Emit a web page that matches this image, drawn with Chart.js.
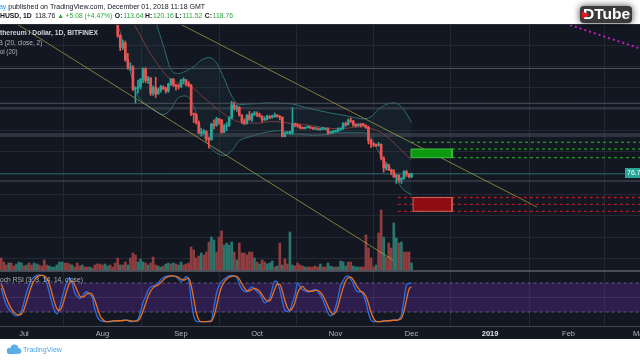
<!DOCTYPE html>
<html><head><meta charset="utf-8">
<script src="https://cdn.jsdelivr.net/npm/chart.js@4.4.1/dist/chart.umd.min.js"></script>
<style>html,body{margin:0;padding:0;background:#fff;overflow:hidden}canvas{display:block}</style>
</head><body>
<canvas id="c" width="640" height="360"></canvas>
<script>
// ---------------- data (x = days since 2018-07-01) ----------------
const monthTicks = [0, 31, 62, 92, 123, 153, 184, 215, 243];
const monthLabels = ['Jul', 'Aug', 'Sep', 'Oct', 'Nov', 'Dec', '2019', 'Feb', 'Mar'];

const candleStart = 34; // Aug 4
const opens = [417,408,407,406,378,356,364,333,319,319,
  278,280,282,296,316,294,298,270,281,269,
  276,282,279,274,287,296,285,283,282,294,
  295,289,285,232,230,215,196,197,198,185,
  183,212,210,222,220,197,208,210,224,248,
  241,244,229,218,214,229,221,231,232,230,
  227,220,222,227,225,226,229,227,225,189,
  195,196,197,212,211,209,205,204,206,207,
  205,204,204,203,203,204,204,197,197,198,
  199,203,204,213,211,219,218,211,209,212,
  211,210,206,181,175,173,172,174,149,130,
  136,126,123,113,116,108,110,123,118,113.64];
const highs = [418,412,414,410,380,370,368,345,327,322,
  282,295,298,318,318,302,300,284,300,280,
  285,284,281,289,298,298,287,287,296,299,
  296,292,287,233,232,218,204,202,200,188,
  214,220,225,223,221,212,215,226,255,253,
  248,245,230,222,230,236,233,236,235,233,
  228,226,229,228,229,233,230,228,226,197,
  198,199,243,214,213,211,207,207,209,208,
  206,207,205,205,206,205,205,199,200,201,
  205,205,215,216,222,224,219,213,213,213,
  214,211,208,184,177,175,178,175,151,140,
  137,127,127,118,117,112,125,125,120,120.16];
const lows = [400,401,400,375,350,352,330,315,313,275,
  252,270,278,290,290,288,266,266,262,268,
  272,277,270,272,285,283,276,278,281,288,
  284,282,228,215,212,194,190,193,180,167,
  182,203,208,212,195,196,200,208,222,238,
  236,227,213,211,212,219,217,228,226,225,
  216,219,220,222,223,225,225,220,188,188,
  194,193,193,207,206,203,203,203,205,204,
  202,203,201,201,202,202,193,195,195,197,
  198,200,202,208,210,215,208,207,208,207,
  208,204,175,168,170,170,171,145,122,126,
  125,117,112,101,103,101,109,114,111,111.52];
const closes = [408,407,406,378,356,364,333,319,319,278,
  280,282,296,316,294,298,270,281,269,276,
  282,279,274,287,296,285,283,282,294,295,
  289,285,232,230,215,196,197,198,185,183,
  212,210,222,220,197,208,210,224,248,241,
  244,229,218,214,229,221,231,232,230,227,
  220,222,227,225,226,229,227,225,189,195,
  196,197,212,211,209,205,204,206,207,205,
  204,204,203,203,204,204,197,197,198,199,
  203,204,213,211,219,218,211,209,212,211,
  210,206,181,175,173,172,174,149,130,136,
  126,123,113,116,108,110,123,118,113.64,118.76];

const volStart = -9;
const volume = [60,40,25,35,35,20,30,40,35,20,
  25,35,25,35,30,25,20,50,25,20,
  15,15,25,40,40,35,35,30,25,15,
  35,20,25,15,15,15,10,25,30,30,
  25,30,20,25,15,35,60,25,25,40,
  25,60,85,75,40,55,40,35,25,35,
  65,25,20,15,20,30,35,30,35,30,
  25,40,25,30,35,115,100,60,70,85,
  75,90,140,165,150,90,165,195,125,135,
  125,140,90,50,135,85,85,75,90,90,
  60,40,30,50,40,30,35,45,15,20,
  135,25,55,30,190,25,20,35,25,20,
  15,15,15,15,20,15,30,15,15,35,
  20,15,15,15,45,40,20,40,40,20,
  15,15,15,15,175,110,60,15,25,185,
  300,165,65,135,110,235,160,135,140,90,
  90,90,35];
const volUp = [0,0,0,1,0,0,1,1,1,0,
  1,0,0,1,1,0,0,0,0,1,
  1,1,1,1,1,0,0,0,1,0,
  0,0,1,0,0,1,0,0,0,0,
  0,1,1,0,0,0,0,1,0,0,
  1,0,0,0,1,1,1,0,1,0,
  0,0,1,1,0,1,1,0,1,0,
  1,1,0,0,0,0,0,0,0,1,
  0,0,0,1,1,0,0,0,1,1,
  1,1,0,1,0,0,0,0,0,0,
  1,0,1,0,0,1,1,1,0,1,
  0,1,0,0,1,1,0,0,0,0,
  1,0,0,0,0,0,1,0,0,1,
  1,1,0,1,1,1,1,0,0,1,
  1,1,0,0,0,0,0,0,1,0,
  0,1,0,0,0,1,1,0,1,0,
  0,0,1];

const stochStart = -9;
const stochK = [70,50,35,26,20,15,12,14,22,40,
  60,75,87,92,96,97,96,93,80,60,
  40,24,16,28,48,68,83,90,80,60,
  52,48,52,60,62,56,50,25,10,3,
  1,0,0,1,2,2,1,2,3,3,
  2,0,0,2,5,20,40,52,65,72,
  74,75,80,87,91,94,95,95,94,93,
  88,83,88,93,88,45,12,1,0,0,
  0,0,1,3,30,59,75,83,88,92,
  95,96,94,92,78,68,63,62,68,72,
  68,62,58,48,39,42,48,68,84,82,
  66,42,24,21,24,40,55,81,72,66,
  64,62,63,65,67,62,55,45,32,18,
  12,15,30,50,75,85,93,95,88,78,
  66,62,62,55,40,18,3,0,0,0,
  1,2,2,2,3,3,3,5,14,45,
  76,79,80];
const stochD = [78,65,50,37,27,20,16,14,16,25,
  41,58,74,85,92,95,96,95,90,78,
  60,41,27,23,31,48,66,80,84,77,
  64,53,51,53,58,59,56,44,28,13,
  5,1,0,0,1,2,2,2,2,3,
  3,2,1,1,2,9,22,37,52,63,
  70,74,76,81,86,91,93,95,95,94,
  92,88,86,88,90,75,48,19,4,0,
  0,0,0,1,11,31,55,72,82,88,
  92,94,95,94,88,79,70,64,64,67,
  69,67,63,56,48,43,43,53,67,78,
  77,63,44,29,23,28,40,59,69,73,
  67,64,63,63,65,65,61,54,44,32,
  21,15,19,32,52,70,84,91,92,87,
  77,69,63,60,52,38,20,7,1,0,
  0,1,2,2,2,3,3,4,7,21,
  45,67,72];

const bbDays  = [34,36,38,40,42,44,46,48,50,52,55,58,61,64,67,70,73,76,79,82,85,89,93,97,102,106,110,114,118,122,126,130,134,137,140,143,146,149,151,153];
const bbUpper = [500,505,510,510,510,510,500,470,440,405,360,315,307,312,320,332,337,327,298,265,249,250,251,252,251,250,245,240,236,232,229,225,222,226,240,249,252,245,232,215];
const bbBasis = [465,458,448,432,412,395,378,360,344,330,310,296,289,286,279,266,254,242,231,222,216,214,214,217,216,213,212,209,206,204,204,206,207,204,199,190,177,163,154,145];
const bbLower = [430,405,385,348,310,275,258,250,243,236,230,240,262,265,245,200,172,158,153,162,181,188,194,198,200,194,193,191,192,195,196,196,196,187,160,140,122,93,85,80];

const priceLevels = [316.5, 251.2, 242.4, 193.6, 189.9, 105.5];
const lastPrice = 118.76;
const upperTrend = [[58, 408.8], [202.5, 56.7]];
const lowerTrend = [[-10, 421.6], [145.7, -42.8]];
const magentaTrend = [[210, 407], [245, 351.1]];
const greenZone = {from: 152.8, to: 169, top: 165.5, bottom: 149.2, level: 178.1};
const redZone = {from: 153.6, to: 169, top: 74.5, mid: 61.7, bottom: 48.6, lineFrom: 147.6};
const stochBands = [80, 50, 20];

// ---------------- chart ----------------
const FONT = '"Liberation Sans", Arial, Helvetica, sans-serif';
const X_MIN = -9.47, X_MAX = 243.2, X_END = 246;
const up = '#26a69a', dn = '#ef5350';
const cCol = opens.map((o, i) => closes[i] >= o ? up : dn);
const pts = (start, arr) => arr.map((v, i) => ({x: start + i, y: v}));
const seg = (p) => p.map(q => ({x: q[0], y: q[1]}));
const hline = (y, from) => [{x: from, y}, {x: X_END, y}];
const box = (z) => [{x: z.from, y: z.top}, {x: z.to, y: z.top}, {x: z.to, y: z.bottom}, {x: z.from, y: z.bottom}, {x: z.from, y: z.top}];

const datasets = [
  {type: 'line', data: hline(stochBands[0], -12), yAxisID: 'yS', borderColor: 'rgba(150,140,185,0.55)', borderDash: [3, 3], fill: '+1', backgroundColor: 'rgba(120,50,200,0.26)', order: 100},
  {type: 'line', data: hline(stochBands[2], -12), yAxisID: 'yS', borderColor: 'rgba(150,140,185,0.55)', borderDash: [3, 3], order: 99},
  {type: 'line', data: hline(stochBands[1], -12), yAxisID: 'yS', borderColor: 'rgba(150,140,185,0.18)', order: 98},
  {type: 'line', data: bbDays.map((d, i) => ({x: d, y: bbUpper[i]})), yAxisID: 'yP', borderColor: '#2b6f70', fill: '+1', backgroundColor: 'rgba(40,120,120,0.10)', cubicInterpolationMode: 'monotone', order: 90},
  {type: 'line', data: bbDays.map((d, i) => ({x: d, y: bbLower[i]})), yAxisID: 'yP', borderColor: '#2b6f70', cubicInterpolationMode: 'monotone', order: 89},
  {type: 'line', data: bbDays.map((d, i) => ({x: d, y: bbBasis[i]})), yAxisID: 'yP', borderColor: '#7b3a3f', cubicInterpolationMode: 'monotone', order: 88},
  ...priceLevels.map(p => ({type: 'line', data: hline(p, -12), yAxisID: 'yP', borderColor: '#4d515c', order: 80})),
  {type: 'line', data: hline(lastPrice, -12), yAxisID: 'yP', borderColor: 'rgba(38,166,154,0.55)', order: 79},
  {type: 'bar', data: pts(volStart, volume), yAxisID: 'yV', backgroundColor: volUp.map(u => u ? '#2a766d' : '#8f3d3e'), barThickness: 2, grouped: false, order: 70},
  {type: 'line', data: seg(upperTrend), yAxisID: 'yP', borderColor: 'rgba(190,180,70,0.65)', order: 60},
  {type: 'line', data: seg(lowerTrend), yAxisID: 'yP', borderColor: 'rgba(190,180,70,0.65)', order: 60},
  {type: 'line', data: seg(magentaTrend), yAxisID: 'yP', borderColor: '#c21bc2', borderWidth: 2, borderDash: [2, 3], order: 59},
  {type: 'bar', data: opens.map((o, i) => ({x: candleStart + i, y: [lows[i], highs[i]]})), yAxisID: 'yP', backgroundColor: cCol, barThickness: 1, grouped: false, order: 50},
  {type: 'bar', data: opens.map((o, i) => ({x: candleStart + i, y: [Math.min(o, closes[i]), Math.max(o, closes[i])]})), yAxisID: 'yP', backgroundColor: cCol, barThickness: 2, minBarLength: 1, grouped: false, order: 49},
  {type: 'line', data: hline(greenZone.level, greenZone.from), yAxisID: 'yP', borderColor: '#1f9e22', borderWidth: 1.3, borderDash: [3, 3], order: 41},
  {type: 'line', data: hline(greenZone.top, greenZone.to), yAxisID: 'yP', borderColor: '#1f9e22', borderWidth: 1.3, borderDash: [3, 3], order: 41},
  {type: 'line', data: hline(greenZone.bottom, greenZone.to), yAxisID: 'yP', borderColor: '#1f9e22', borderWidth: 1.3, borderDash: [3, 3], order: 41},
  {type: 'line', data: hline(redZone.top, redZone.lineFrom), yAxisID: 'yP', borderColor: '#a91d24', borderWidth: 1.3, borderDash: [3, 3], order: 41},
  {type: 'line', data: hline(redZone.mid, redZone.lineFrom), yAxisID: 'yP', borderColor: '#a91d24', borderWidth: 1.3, borderDash: [3, 3], order: 41},
  {type: 'line', data: hline(redZone.bottom, redZone.lineFrom), yAxisID: 'yP', borderColor: '#a91d24', borderWidth: 1.3, borderDash: [3, 3], order: 41},
  {type: 'line', data: box(greenZone), yAxisID: 'yP', borderColor: '#3cc23f', backgroundColor: '#0e9a10', fill: 'shape', order: 40},
  {type: 'line', data: box(redZone), yAxisID: 'yP', borderColor: '#c8665c', backgroundColor: '#8f0c12', fill: 'shape', order: 40},
  {type: 'line', data: pts(stochStart, stochK), yAxisID: 'yS', borderColor: '#2f6fe0', borderWidth: 1.3, cubicInterpolationMode: 'monotone', order: 20},
  {type: 'line', data: pts(stochStart, stochD), yAxisID: 'yS', borderColor: '#e8711f', borderWidth: 1.3, cubicInterpolationMode: 'monotone', order: 19},
];

function fitSize(ctx, text, w, weight) { ctx.font = weight + ' 20px ' + FONT; return 20 * w / ctx.measureText(text).width; }
function setFont(ctx, s, weight) { ctx.font = weight + ' ' + s.toFixed(2) + 'px ' + FONT; }
function hl(ctx, y, color, w) { ctx.strokeStyle = color; ctx.lineWidth = w; ctx.beginPath(); ctx.moveTo(0, y); ctx.lineTo(640, y); ctx.stroke(); }

const decor = {
  id: 'decor',
  beforeDraw(chart) {
    const c = chart.ctx; c.save();
    c.fillStyle = '#ffffff'; c.fillRect(0, 0, 640, 360);
    c.fillStyle = '#131722'; c.fillRect(0, 24, 640, 315);
    c.restore();
  },
  afterDraw(chart) {
    const c = chart.ctx, a = chart.chartArea, yV = chart.scales.yV;
    c.save();
    hl(c, 24.5, '#2a2e39', 1);
    hl(c, Math.round(yV.getPixelForValue(0)) + 1, '#5d606b', 1.5);
    hl(c, a.bottom + 0.5, '#434651', 1);
    c.textBaseline = 'middle'; c.textAlign = 'left';
    // header line 1
    const pub = 'published on TradingView.com, December 01, 2018 11:18 GMT';
    const hs = fitSize(c, pub, 197, 'normal');
    setFont(c, hs, 'normal');
    c.fillStyle = '#2196f3'; c.fillText('ay', 8.3 - c.measureText('ay ').width, 6.7);
    c.fillStyle = '#131722'; c.fillText(pub, 8.3, 6.7);
    // header line 2
    const ls = hs * 0.97;
    setFont(c, ls, 'bold');
    c.fillText('ETHUSD, 1D', -c.measureText('ET').width, 16);
    const g = '#2fa53a', k = '#131722';
    const toks = [['118.76', 'normal', k, 2], ['\u25B2', 'normal', g, 1.5], ['+5.08 (+4.47%)', 'normal', g, 2.5],
      ['O:', 'bold', k, 0.8], ['113.64', 'normal', g, 1.5], ['H:', 'bold', k, 0.8], ['120.16', 'normal', g, 1.5],
      ['L:', 'bold', k, 0.8], ['111.52', 'normal', g, 2.5], ['C:', 'bold', k, 0.8], ['118.76', 'normal', g, 0]];
    let tx = 35;
    toks.forEach(t => { setFont(c, ls, t[1]); c.fillStyle = t[2]; c.fillText(t[0], tx, 16); tx += c.measureText(t[0]).width + t[3]; });
    // legends
    let s = fitSize(c, 'thereum / Dollar, 1D, BITFINEX', 98, 'bold'); setFont(c, s, 'bold');
    c.fillStyle = '#d1d4dc'; c.fillText('Ethereum / Dollar, 1D, BITFINEX', -c.measureText('E').width, 33.5);
    s = fitSize(c, 'B (20, close, 2)', 44, 'normal'); setFont(c, s, 'normal');
    c.fillStyle = '#b2b5be'; c.fillText('BB (20, close, 2)', -c.measureText('B').width - 1.5, 43.5);
    s = fitSize(c, 'ol (20)', 18, 'normal'); setFont(c, s, 'normal');
    c.fillText('Vol (20)', -c.measureText('V').width, 52.5);
    s = fitSize(c, 'och RSI (3, 3, 14, 14, close)', 83, 'normal'); setFont(c, s, 'normal');
    c.fillText('Stoch RSI (3, 3, 14, 14, close)', -c.measureText('St').width, 280);
    // right price tag
    c.fillStyle = '#26a69a'; c.fillRect(625, 168, 16, 10);
    setFont(c, hs, 'normal'); c.fillStyle = '#ffffff'; c.fillText('76.7', 627, 173.2);
    // footer
    c.fillStyle = '#5aaee8';
    c.beginPath(); c.arc(10, 351, 3.2, Math.PI * 0.5, Math.PI * 1.5); c.arc(14.5, 348.5, 4, Math.PI, Math.PI * 1.9);
    c.arc(18.5, 351, 2.8, Math.PI * 1.4, Math.PI * 0.5); c.closePath(); c.fill();
    s = fitSize(c, 'TradingView', 39, 'normal'); setFont(c, s, 'normal');
    c.fillStyle = '#4ba5e3'; c.fillText('TradingView', 23, 350.5);
    // DTube badge
    c.save(); c.shadowColor = 'rgba(0,0,0,0.75)'; c.shadowBlur = 7;
    c.fillStyle = '#3a3a3a'; c.beginPath(); c.roundRect(580, 6, 52, 17, 4); c.fill(); c.restore();
    s = fitSize(c, 'Tube', 36, 'bold'); setFont(c, s, 'bold');
    c.fillStyle = '#ffffff'; c.fillText('DTube', 583, 15);
    c.fillStyle = '#e3161c'; c.beginPath(); c.moveTo(582, 11.3); c.lineTo(589.5, 15); c.lineTo(582, 18.7); c.closePath(); c.fill();
    c.restore();
  }
};

Chart.defaults.elements.point.radius = 0;
Chart.defaults.elements.line.borderWidth = 1;

new Chart(document.getElementById('c'), {
  type: 'line',
  data: {datasets},
  plugins: [decor],
  options: {
    responsive: false, animation: false, devicePixelRatio: 1, events: [],
    layout: {padding: {top: 24, bottom: 21, left: 0, right: 0}},
    plugins: {legend: {display: false}, tooltip: {enabled: false}},
    scales: {
      x: {
        type: 'linear', min: X_MIN, max: X_MAX, offset: false, position: 'bottom',
        grid: {color: '#242833', drawTicks: false},
        border: {display: false},
        afterBuildTicks: (sc) => { sc.ticks = monthTicks.map(v => ({value: v})); },
        afterFit: (sc) => { sc.height = 13; sc.paddingLeft = 0; sc.paddingRight = 0; },
        ticks: {
          autoSkip: false, maxRotation: 0, padding: 3,
          callback: (v, i) => monthLabels[i],
          font: (ctx) => ({size: 7.5, family: FONT, weight: (ctx.tick && ctx.tick.value === 184) ? 'bold' : 'normal'}),
          color: (ctx) => (ctx.tick && ctx.tick.value === 184) ? '#e0e3eb' : '#b2b5be'
        }
      },
      yP: {
        type: 'linear', position: 'left', min: -166.6, max: 400,
        afterBuildTicks: (sc) => { const t = []; for (let v = -40; v <= 360; v += 40) t.push({value: v}); sc.ticks = t; },
        afterFit: (sc) => { sc.width = 0; sc.paddingTop = 0; sc.paddingBottom = 0; },
        ticks: {display: false},
        border: {display: false},
        grid: {drawTicks: false, color: '#242833'}
      },
      yV: {type: 'linear', display: false, min: -280, max: 1230},
      yS: {type: 'linear', display: false, min: -8.9, max: 616}
    }
  }
});
</script>
</body></html>
